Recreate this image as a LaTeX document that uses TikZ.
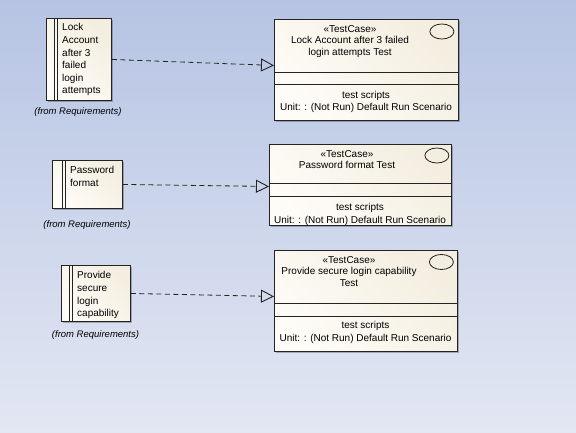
\documentclass[tikz,border=0pt]{standalone}
\usepackage{fontspec}
\setmainfont{Liberation Sans}
\usetikzlibrary{arrows.meta,shadows,shapes.geometric}
\definecolor{bgtop}{RGB}{182,196,227}
\definecolor{bgbot}{RGB}{227,231,243}
\definecolor{creamlight}{RGB}{254,252,247}
\definecolor{creamdark}{RGB}{244,238,224}
\definecolor{edge}{RGB}{35,35,35}
\tikzset{
  boxbase/.style={draw=edge, line width=0.9pt, left color=creamlight, right color=creamdark, shading angle=135,
    drop shadow={shadow xshift=2pt, shadow yshift=-2pt, opacity=0.25, fill=black}, inner sep=0pt},
  reqbox/.style={boxbase, anchor=north west},
  tcbox/.style={boxbase, anchor=north west},
  reqtext/.style={anchor=north west, align=left, inner sep=0pt, font=\fontsize{10}{12.6}\selectfont},
  fromtext/.style={font=\fontsize{9.5}{11}\selectfont\itshape, inner sep=0pt},
  headtext/.style={anchor=north, align=center, inner sep=0pt, font=\fontsize{10}{11.8}\selectfont},
  bodytext/.style={align=center, inner sep=0pt, font=\fontsize{10}{12.5}\selectfont},
  trace/.style={draw=edge, line width=0.8pt, dash pattern=on 5pt off 3.5pt, -{Triangle[open, length=13pt, width=13pt, line width=0.9pt]}},
  stripe/.style={draw=edge, line width=0.9pt},
  sep/.style={draw=edge, line width=0.9pt},
  icon/.style={draw=edge, line width=0.8pt, ellipse, minimum width=24pt, minimum height=15pt, inner sep=0pt}
}
\begin{document}
\begin{tikzpicture}[x=1pt,y=-1pt]
\useasboundingbox (0,0) rectangle (576,433);
\shade[top color=bgtop, bottom color=bgbot] (0,0) rectangle (576,433);

% ---------- requirements ----------
\node[reqbox, minimum width=65pt, minimum height=82pt] (r1) at (46,18) {};
\draw[stripe] ([xshift=8pt]r1.north west) -- ([xshift=8pt]r1.south west);
\draw[stripe] ([xshift=11pt]r1.north west) -- ([xshift=11pt]r1.south west);
\node[reqtext] (r1t) at ([xshift=16pt,yshift=-5.5pt]r1.north west) {Lock\\Account\\after 3\\failed\\login\\attempts};
\node[fromtext] (r1f) at (78,112) {(from Requirements)};

\node[reqbox, minimum width=70pt, minimum height=48pt] (r2) at (52,160) {};
\draw[stripe] ([xshift=10pt]r2.north west) -- ([xshift=10pt]r2.south west);
\draw[stripe] ([xshift=13pt]r2.north west) -- ([xshift=13pt]r2.south west);
\node[reqtext] (r2t) at ([xshift=18pt,yshift=-6.5pt]r2.north west) {Password\\format};
\node[fromtext] (r2f) at (87,225) {(from Requirements)};

\node[reqbox, minimum width=69pt, minimum height=56pt] (r3) at (61,265) {};
\draw[stripe] ([xshift=8pt]r3.north west) -- ([xshift=8pt]r3.south west);
\draw[stripe] ([xshift=11pt]r3.north west) -- ([xshift=11pt]r3.south west);
\node[reqtext] (r3t) at ([xshift=16pt,yshift=-6.5pt]r3.north west) {Provide\\secure\\login\\capability};
\node[fromtext] (r3f) at (95.5,335) {(from Requirements)};

% ---------- test cases ----------
\node[tcbox, minimum width=184pt, minimum height=101pt] (t1) at (274,19) {};
\draw[sep] (t1.west |- 0,72) -- (t1.east |- 0,72);
\draw[sep] (t1.west |- 0,84) -- (t1.east |- 0,84);
\node[icon] (t1i) at ([xshift=-17pt,yshift=-12.5pt]t1.north east) {};
\node[headtext] (t1h) at (350,25) {«TestCase»\\Lock Account after 3 failed\\login attempts Test};
\node[bodytext] (t1b) at (366,102) {test scripts\\Unit: : (Not Run) Default Run Scenario};

\node[tcbox, minimum width=182pt, minimum height=81pt] (t2) at (269,144) {};
\draw[sep] (t2.west |- 0,183) -- (t2.east |- 0,183);
\draw[sep] (t2.west |- 0,196) -- (t2.east |- 0,196);
\node[icon] (t2i) at ([xshift=-15pt,yshift=-11.5pt]t2.north east) {};
\node[headtext] (t2h) at (347,150) {«TestCase»\\Password format Test};
\node[bodytext] (t2b) at (360,214.5) {test scripts\\Unit: : (Not Run) Default Run Scenario};

\node[tcbox, minimum width=183pt, minimum height=101pt] (t3) at (274,250) {};
\draw[sep] (t3.west |- 0,303) -- (t3.east |- 0,303);
\draw[sep] (t3.west |- 0,316) -- (t3.east |- 0,316);
\node[icon] (t3i) at ([xshift=-16.5pt,yshift=-12pt]t3.north east) {};
\node[headtext] (t3h) at (349,256) {«TestCase»\\Provide secure login capability\\Test};
\node[bodytext] (t3b) at (365.5,332.5) {test scripts\\Unit: : (Not Run) Default Run Scenario};

% ---------- trace connectors ----------
\draw[trace] (r1.east) -- ([yshift=4.5pt]t1.west);
\draw[trace] (r2.east) -- ([yshift=-1.5pt]t2.west);
\draw[trace] (r3.east) -- ([yshift=4.5pt]t3.west);
\end{tikzpicture}
\end{document}
